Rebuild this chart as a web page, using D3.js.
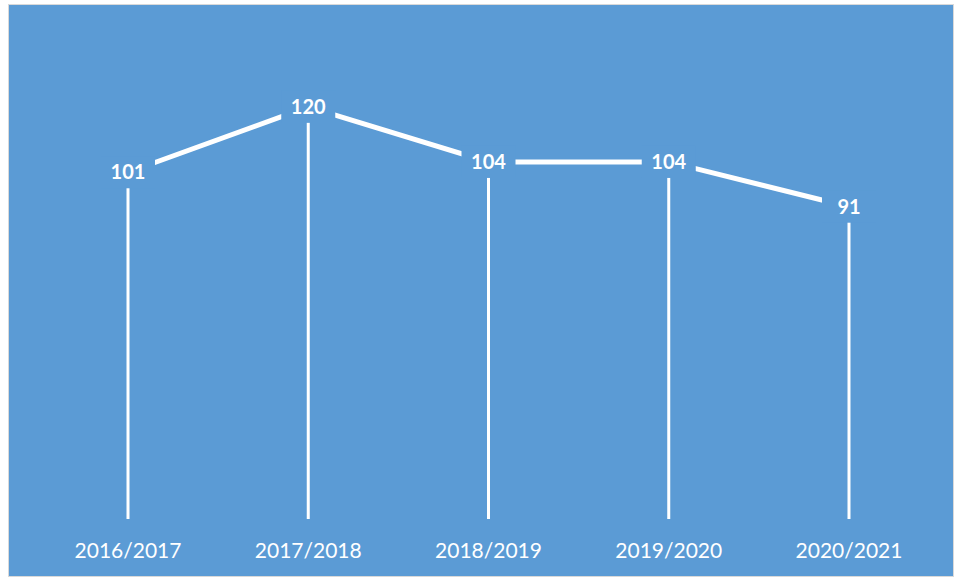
<!DOCTYPE html>
<html>
<head>
<meta charset="utf-8">
<script src="https://cdn.jsdelivr.net/npm/d3@7"></script>
<style>
  body { margin: 0; background: #fff; }
  text { font-family: Lato, "Open Sans", sans-serif; }
</style>
</head>
<body>
<div id="chart"></div>
<script>
// Chart data
const years = ["2016/2017", "2017/2018", "2018/2019", "2019/2020", "2020/2021"];
const counts = [101, 120, 104, 104, 91];

const width = 956;
const height = 578;

const svg = d3.select("#chart")
  .append("svg")
  .attr("width", width)
  .attr("height", height);

// blue chart area with thin grey border
svg.append("rect")
  .attr("x", 8.5)
  .attr("y", 4.5)
  .attr("width", 945)
  .attr("height", 572)
  .attr("fill", "#5B9BD5")
  .attr("stroke", "#D9D9D9");

const x = d3.scalePoint()
  .domain(years)
  .range([128, 849]);

const y = d3.scaleLinear()
  .domain([0, 140])
  .range([520, 38]);

const data = years.map((d, i) => ({ year: d, value: counts[i] }));

// drop lines to the bottom
svg.append("g")
  .selectAll("line")
  .data(data)
  .enter().append("line")
  .attr("x1", d => x(d.year))
  .attr("x2", d => x(d.year))
  .attr("y1", d => y(d.value))
  .attr("y2", y(0) - 1)
  .attr("stroke", "#fff")
  .attr("stroke-width", 3);

// main line
const line = d3.line()
  .x(d => x(d.year))
  .y(d => y(d.value));

svg.append("path")
  .datum(data)
  .attr("d", line)
  .attr("fill", "none")
  .attr("stroke", "#fff")
  .attr("stroke-width", 5);

// value labels with background boxes
const labels = svg.append("g")
  .selectAll("g")
  .data(data)
  .enter().append("g")
  .attr("transform", d => `translate(${x(d.year)},${y(d.value)})`);

labels.append("rect")
  .attr("x", -27)
  .attr("y", -16)
  .attr("width", 54)
  .attr("height", 32)
  .attr("fill", "#5B9BD5");

labels.append("text")
  .attr("text-anchor", "middle")
  .attr("dy", "0.35em")
  .attr("font-size", "20px")
  .attr("font-weight", "bold")
  .attr("fill", "#fff")
  .text(d => d.value);

// category labels
svg.append("g")
  .selectAll("text")
  .data(years)
  .enter().append("text")
  .attr("x", d => x(d))
  .attr("y", 558)
  .attr("text-anchor", "middle")
  .attr("font-size", "21px")
  .attr("fill", "#fff")
  .text(d => d);
</script>
</body>
</html>
